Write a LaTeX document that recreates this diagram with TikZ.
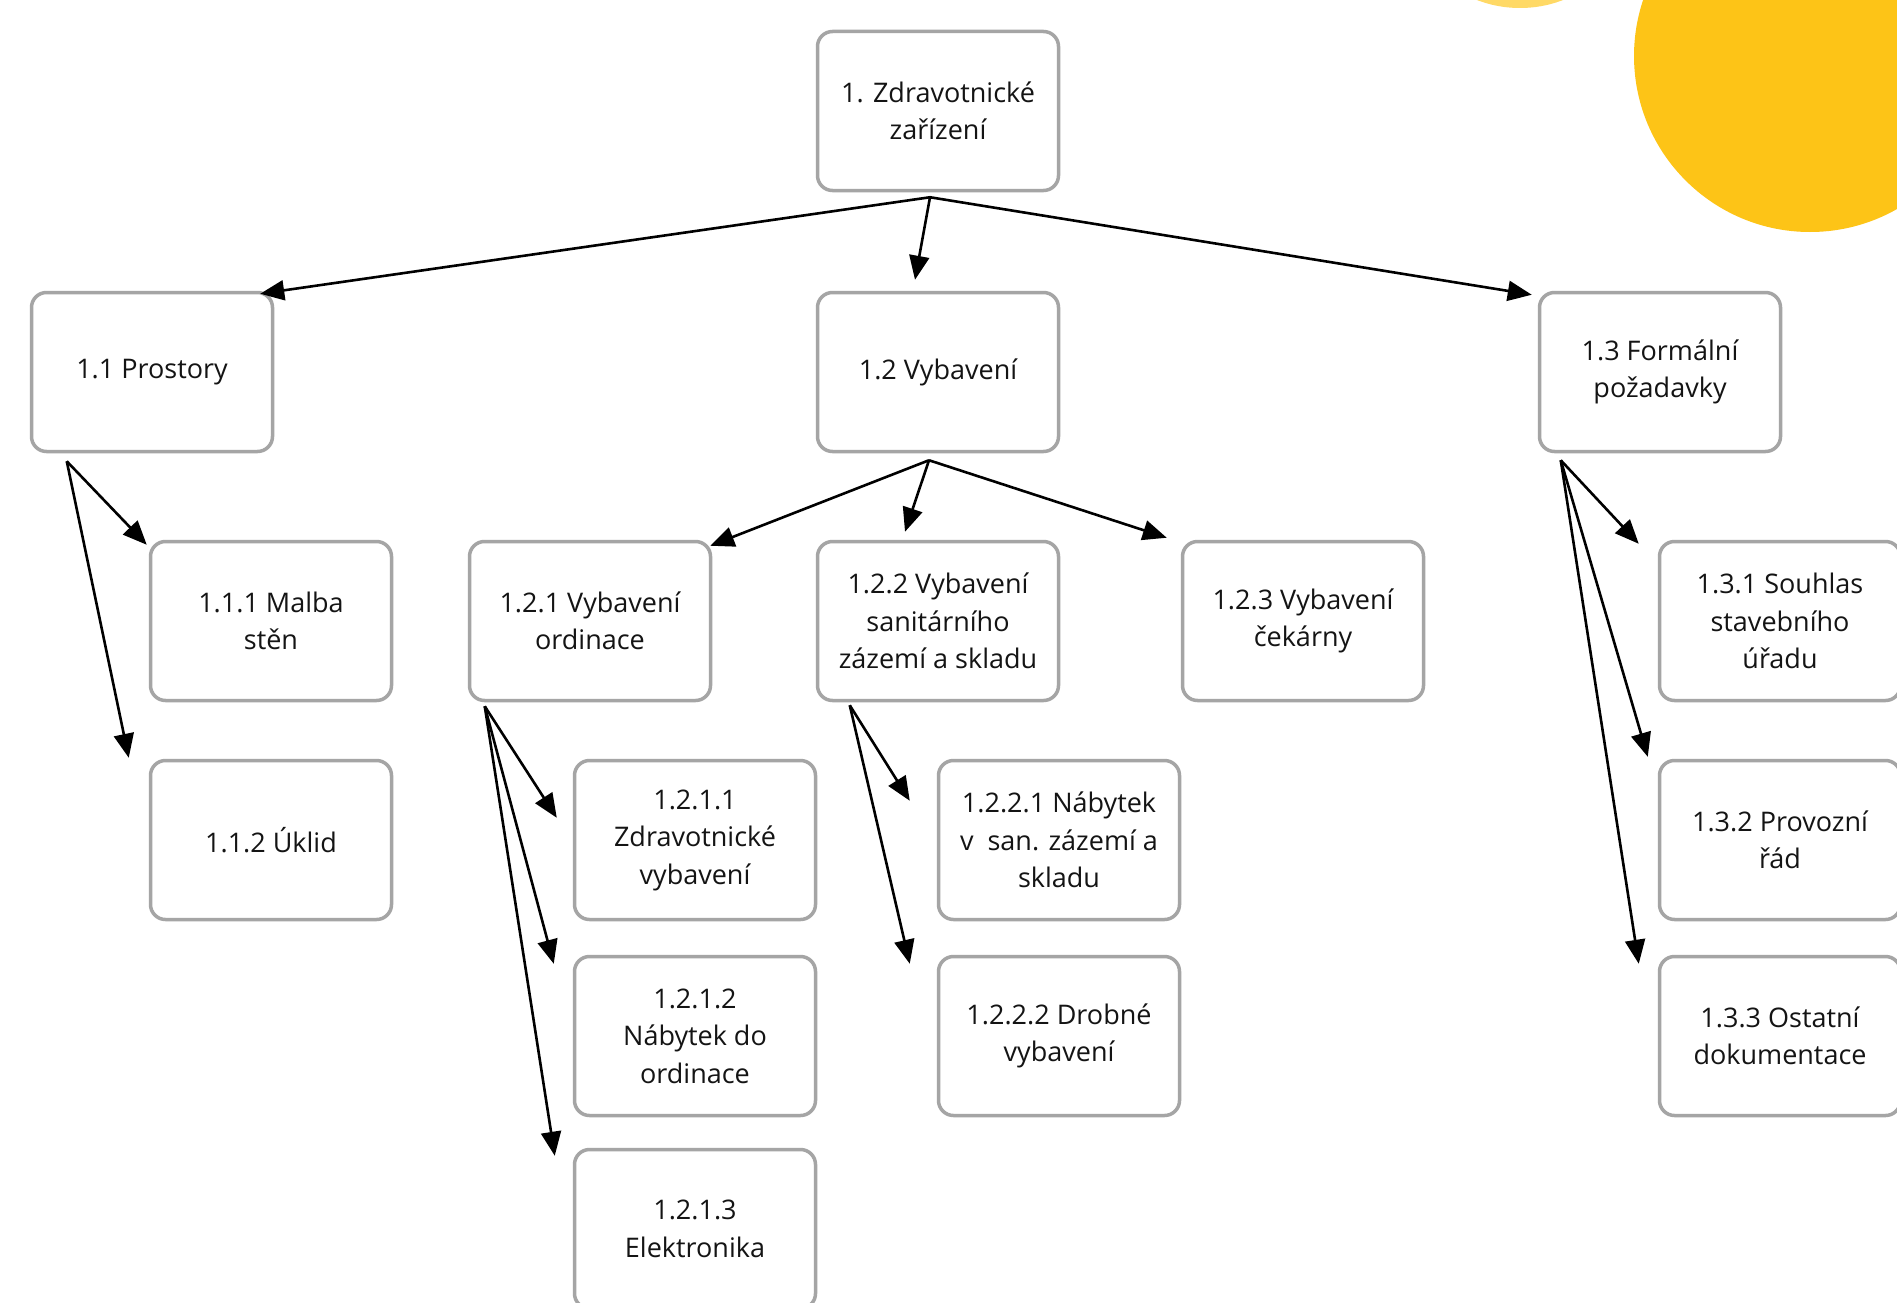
\documentclass[tikz,border=0pt]{standalone}
\usepackage{fontspec}
\setmainfont{Open Sans}
\usetikzlibrary{arrows.meta,calc}
\definecolor{boxgray}{RGB}{165,165,165}
\definecolor{txt}{RGB}{20,20,20}
\definecolor{sunbig}{RGB}{253,196,23}
\definecolor{sunsmall}{RGB}{255,217,102}
\tikzset{
  wbs/.style={draw=boxgray, line width=3.5pt, rounded corners=15pt, fill=white,
    minimum width=241pt, minimum height=159pt, align=center, text=txt,
    inner sep=4pt, font=\fontsize{27}{37.5}\selectfont},
  arr/.style={draw=black, line width=2.6pt, -{Triangle[length=24pt,width=20pt]}}
}
\begin{document}
\begin{tikzpicture}[x=1pt,y=-1pt]
\useasboundingbox (0,0) rectangle (1897,1303);
\clip (0,0) rectangle (1897,1303);
\fill[white] (0,0) rectangle (1897,1303);
% decorative circles
\fill[sunsmall] (1520,-112) circle (120);
\fill[sunbig] (1810,56) circle (176);

% nodes
\node[wbs] (root) at (938,111) {1. Zdravotnické\\zařízení};
\node[wbs] (n11) at (152,372) {1.1 Prostory};
\node[wbs] (n12) at (938,372) {1.2 Vybavení};
\node[wbs] (n13) at (1660,372) {1.3 Formální\\požadavky};
\node[wbs] (n111) at (271,621) {1.1.1 Malba\\stěn};
\node[wbs] (n112) at (271,840) {1.1.2 Úklid};
\node[wbs] (n121) at (590,621) {1.2.1 Vybavení\\ordinace};
\node[wbs] (n122) at (938,621) {1.2.2 Vybavení\\sanitárního\\zázemí a skladu};
\node[wbs] (n123) at (1303,621) {1.2.3 Vybavení\\čekárny};
\node[wbs] (n1211) at (695,840) {1.2.1.1\\Zdravotnické\\vybavení};
\node[wbs] (n1212) at (695,1036) {1.2.1.2\\Nábytek do\\ordinace};
\node[wbs] (n1213) at (695,1229) {1.2.1.3\\Elektronika};
\node[wbs] (n1221) at (1059,840) {1.2.2.1 Nábytek\\v\ \ san. zázemí a\\skladu};
\node[wbs] (n1222) at (1059,1036) {1.2.2.2 Drobné\\vybavení};
\node[wbs] (n131) at (1780,621) {1.3.1 Souhlas\\stavebního\\úřadu};
\node[wbs] (n132) at (1780,840) {1.3.2 Provozní\\řád};
\node[wbs] (n133) at (1780,1036) {1.3.3 Ostatní\\dokumentace};

% connectors
\draw[arr] ($(root.south)+(-8,5)$) -- ($(n11.north east)+(-14,3)$);
\draw[arr] ($(root.south)+(-8,5)$) -- ($(n12.north)+(-23,-11)$);
\draw[arr] ($(root.south)+(-8,5)$) -- ($(n13.north west)+(-6,4)$);

\draw[arr] ($(n11.south west)+(37,8)$) -- ($(n111.north west)+(-2,5)$);
\draw[arr] ($(n11.south west)+(37,8)$) -- ($(n112.north west)+(-20,-1)$);

\draw[arr] ($(n12.south)+(-9,7)$) -- ($(n121.north east)+(-2,6)$);
\draw[arr] ($(n12.south)+(-9,7)$) -- ($(n122.north)+(-33,-8)$);
\draw[arr] ($(n12.south)+(-9,7)$) -- ($(n123.north west)+(-14,-2)$);

\draw[arr] ($(n121.south west)+(17,4)$) -- ($(n1211.north west)+(-16,59)$);
\draw[arr] ($(n121.south west)+(17,4)$) -- ($(n1212.north west)+(-19,9)$);
\draw[arr] ($(n121.south west)+(17,4)$) -- ($(n1213.north west)+(-18,8)$);

\draw[arr] ($(n122.south west)+(34,3)$) -- ($(n1221.north west)+(-27,42)$);
\draw[arr] ($(n122.south west)+(34,3)$) -- ($(n1222.north west)+(-27,9)$);

\draw[arr] ($(n13.south west)+(23,7)$) -- ($(n131.north west)+(-19,4)$);
\draw[arr] ($(n13.south west)+(23,7)$) -- ($(n132.north west)+(-10,-2)$);
\draw[arr] ($(n13.south west)+(23,7)$) -- ($(n133.north west)+(-19,9)$);
\end{tikzpicture}
\end{document}
